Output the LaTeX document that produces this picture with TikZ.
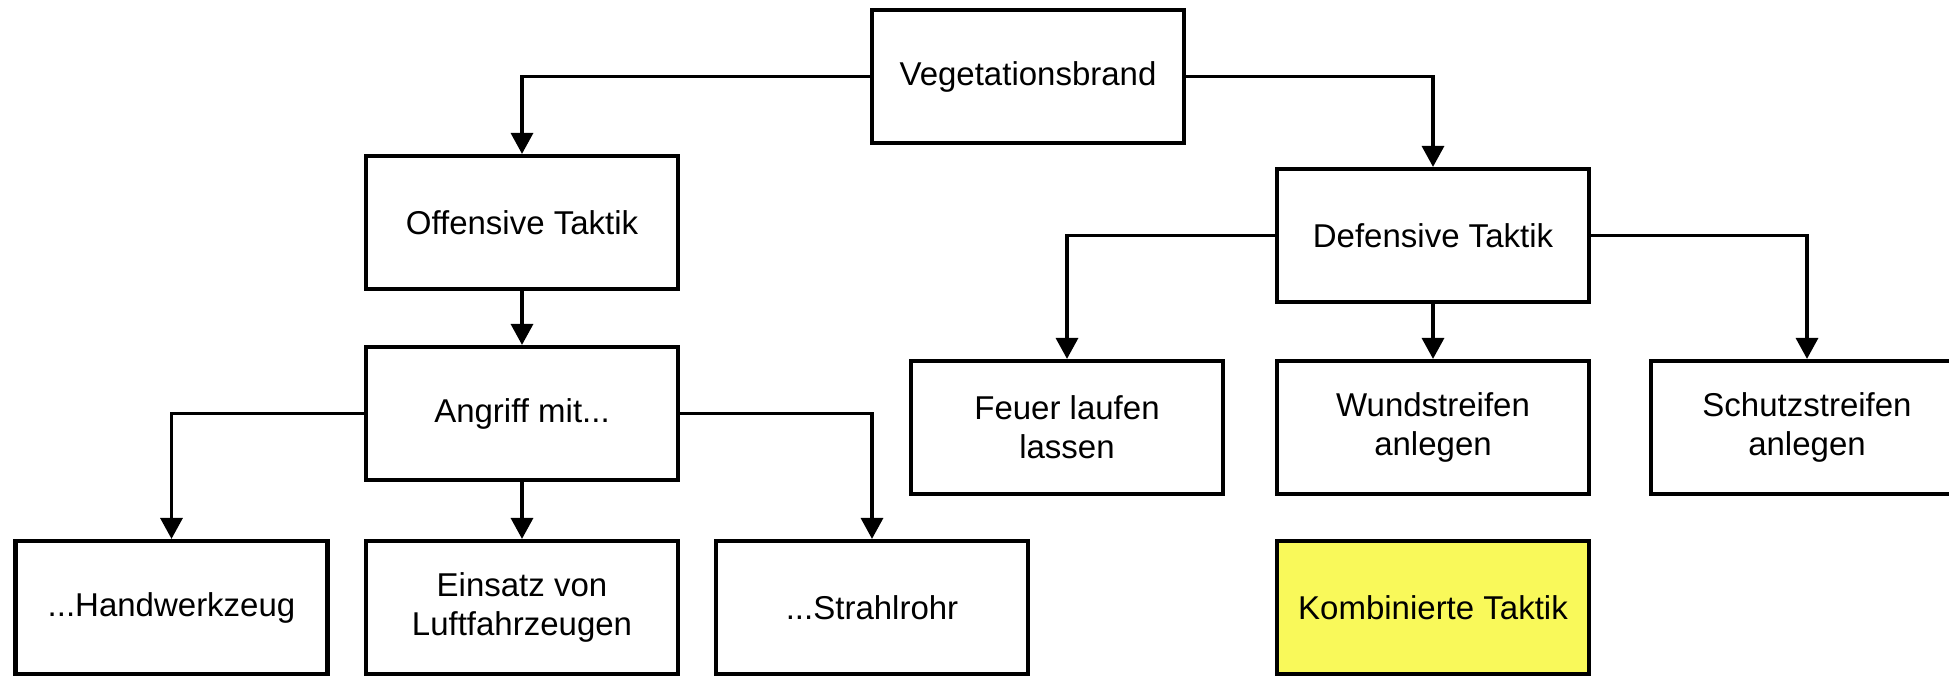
\documentclass[tikz,border=0pt]{standalone}
\usepackage{fontspec}
\setmainfont{Liberation Sans}
\usetikzlibrary{arrows.meta}
\definecolor{kombiyellow}{RGB}{249,249,90}
\begin{document}
\begin{tikzpicture}[x=0.5pt,y=-0.5pt,
  box/.style={draw=black, line width=2.1pt, fill=white, minimum width=156pt, minimum height=66.5pt,
    inner sep=2pt, align=center, font=\fontsize{16.5}{19.5}\selectfont},
  conn/.style={line width=1.7pt, -{Triangle[length=10.5pt,width=11pt]}}]
\useasboundingbox (0,0) rectangle (1949,675);
\clip (0,0) rectangle (1949,675);
\node[box] (veg) at (1028,76.5) {Vegetationsbrand};
\node[box] (off) at (522,222.5) {Offensive Taktik};
\node[box] (def) at (1433,235.5) {Defensive Taktik};
\node[box] (ang) at (522,413.5) {Angriff mit...};
\node[box] (hand) at (171.5,607.5) {...Handwerkzeug};
\node[box] (ein) at (522,607.5) {Einsatz von\\Luftfahrzeugen};
\node[box] (str) at (872,607.5) {...Strahlrohr};
\node[box] (feu) at (1067,427.5) {Feuer laufen\\lassen};
\node[box] (wun) at (1433,427.5) {Wundstreifen\\anlegen};
\node[box] (sch) at (1807,427.5) {Schutzstreifen\\anlegen};
\node[box, fill=kombiyellow] (kom) at (1433,607.5) {Kombinierte Taktik};
\draw[conn] (veg.west) -| (off.north);
\draw[conn] (veg.east) -| (def.north);
\draw[conn] (off.south) -- (ang.north);
\draw[conn] (ang.west) -| (hand.north);
\draw[conn] (ang.south) -- (ein.north);
\draw[conn] (ang.east) -| (str.north);
\draw[conn] (def.west) -| (feu.north);
\draw[conn] (def.south) -- (wun.north);
\draw[conn] (def.east) -| (sch.north);
\end{tikzpicture}
\end{document}
